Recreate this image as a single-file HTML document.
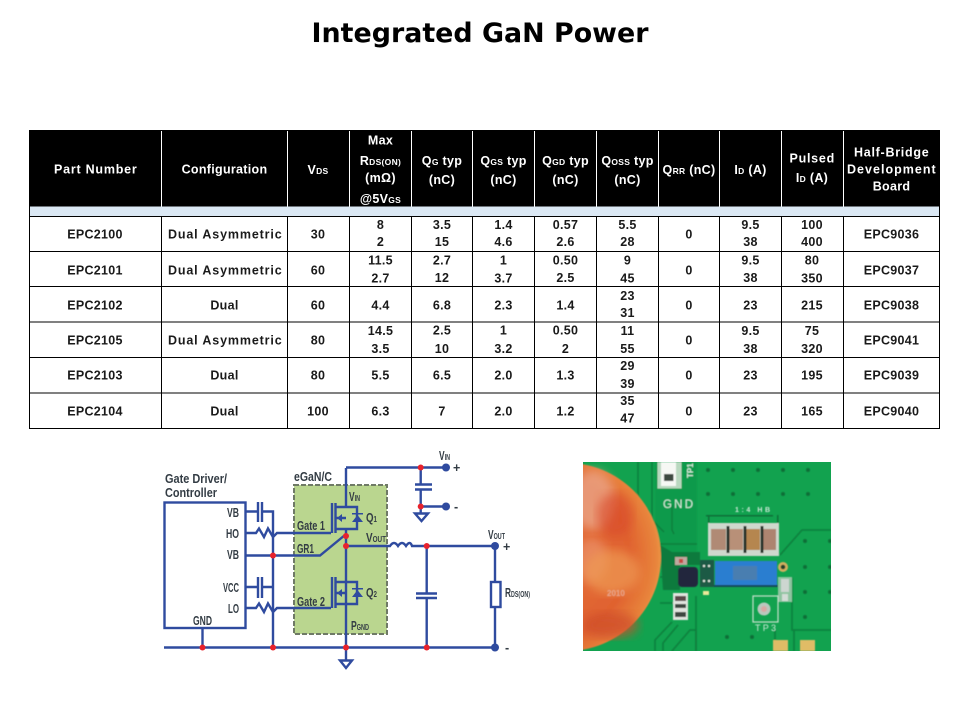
<!DOCTYPE html>
<html><head><meta charset="utf-8"><title>Integrated GaN Power</title>
<style>html,body{margin:0;padding:0;background:#fff;width:960px;height:720px;overflow:hidden}svg{display:block}
.t text{font-family:"Liberation Sans",sans-serif;font-weight:bold;font-size:12.5px;text-anchor:middle;letter-spacing:.3px}
.h text{fill:#fff}.d text{fill:#1a1a1a}
.c text{font-family:"Liberation Sans",sans-serif;font-weight:bold;fill:#333c44;font-size:12.5px}
</style></head><body>
<svg width="960" height="720" viewBox="0 0 960 720" xmlns="http://www.w3.org/2000/svg">
<defs>
<radialGradient id="coin" cx="40%" cy="50%" r="62%"><stop offset="0" stop-color="#e4703c"/><stop offset=".7" stop-color="#e0622f"/><stop offset=".93" stop-color="#e8853c"/><stop offset="1" stop-color="#efa04c"/></radialGradient>
<filter id="b1"><feGaussianBlur stdDeviation=".6"/></filter>
<filter id="b4"><feGaussianBlur stdDeviation="5"/></filter>
<clipPath id="pc"><rect x="583" y="462" width="248" height="189"/></clipPath>
</defs>
<text x="480" y="42" text-anchor="middle" font-family="'DejaVu Sans',sans-serif" font-weight="bold" font-size="27" textLength="337" lengthAdjust="spacingAndGlyphs" fill="#000">Integrated GaN Power</text>

<rect x="29" y="130" width="911" height="76.500" fill="#000"/>
<rect x="29" y="206.500" width="911" height="10" fill="#dbe8f4"/>
<g stroke="#fff" stroke-width="1"><path d="M161.500 131V206.500M287.500 131V206.500M349.500 131V206.500M411.500 131V206.500M472.500 131V206.500M534.500 131V206.500M596.500 131V206.500M658.500 131V206.500M719.500 131V206.500M781.500 131V206.500M843.500 131V206.500"/></g>
<g stroke="#000" stroke-width="1" fill="none"><path d="M29.500 206V428.500M939.500 206V428.500M29 216.500H940M29 251.500H940M29 286.500H940M29 322H940M29 357.500H940M29 393H940M29 428.500H940M161.500 216.500V428.500M287.500 216.500V428.500M349.500 216.500V428.500M411.500 216.500V428.500M472.500 216.500V428.500M534.500 216.500V428.500M596.500 216.500V428.500M658.500 216.500V428.500M719.500 216.500V428.500M781.500 216.500V428.500M843.500 216.500V428.500"/></g>

<g class="t h">
<text x="95.500" y="173.500" textLength="83">Part Number</text>
<text x="224.500" y="173.500">Configuration</text>
<text x="318" y="174">V<tspan font-size="8.500">DS</tspan></text>
<text x="380.500" y="144.500">Max</text>
<text x="380.500" y="165">R<tspan font-size="8.500">DS(ON)</tspan></text>
<text x="380.500" y="182">(mΩ)</text>
<text x="380.500" y="203">@5V<tspan font-size="8.500">GS</tspan></text>
<text x="442" y="165">Q<tspan font-size="8.500">G</tspan> typ</text><text x="442" y="184">(nC)</text>
<text x="503.500" y="165">Q<tspan font-size="8.500">GS</tspan> typ</text><text x="503.500" y="184">(nC)</text>
<text x="565.500" y="165">Q<tspan font-size="8.500">GD</tspan> typ</text><text x="565.500" y="184">(nC)</text>
<text x="627.500" y="165">Q<tspan font-size="8.500">OSS</tspan> typ</text><text x="627.500" y="184">(nC)</text>
<text x="689" y="174">Q<tspan font-size="8.500">RR</tspan> (nC)</text>
<text x="750.500" y="174">I<tspan font-size="8.500">D</tspan> (A)</text>
<text x="812" y="162.500" textLength="45">Pulsed</text><text x="812" y="182">I<tspan font-size="8.500">D</tspan> (A)</text>
<text x="891.500" y="156.500" textLength="75">Half-Bridge</text><text x="891.500" y="173.500" textLength="89">Development</text><text x="891.500" y="190.500">Board</text>
</g>

<g class="t d">
<text x="95" y="238.500">EPC2100</text><text x="225" y="238.500" textLength="114">Dual Asymmetric</text><text x="318" y="238.500">30</text><text x="380.500" y="229">8</text><text x="380.500" y="246">2</text><text x="442" y="229">3.5</text><text x="442" y="246">15</text><text x="503.500" y="229">1.4</text><text x="503.500" y="246">4.6</text><text x="565.500" y="229">0.57</text><text x="565.500" y="246">2.6</text><text x="627.500" y="229">5.5</text><text x="627.500" y="246">28</text><text x="689" y="238.500">0</text><text x="750.500" y="229">9.5</text><text x="750.500" y="246">38</text><text x="812" y="229">100</text><text x="812" y="246">400</text><text x="891.500" y="238.500">EPC9036</text>

<text x="95" y="274.500">EPC2101</text><text x="225" y="274.500" textLength="114">Dual Asymmetric</text><text x="318" y="274.500">60</text><text x="380.500" y="264.500">11.5</text><text x="380.500" y="282.500">2.7</text><text x="442" y="264.500">2.7</text><text x="442" y="282">12</text><text x="503.500" y="264.500">1</text><text x="503.500" y="282.500">3.7</text><text x="565.500" y="264.500">0.50</text><text x="565.500" y="282">2.5</text><text x="627.500" y="264.500">9</text><text x="627.500" y="282.500">45</text><text x="689" y="274.500">0</text><text x="750.500" y="264.500">9.5</text><text x="750.500" y="282">38</text><text x="812" y="264.500">80</text><text x="812" y="282.500">350</text><text x="891.500" y="274.500">EPC9037</text>

<text x="95" y="309.500">EPC2102</text><text x="224.500" y="309.500">Dual</text><text x="318" y="309.500">60</text><text x="380.500" y="309.500">4.4</text><text x="442" y="309.500">6.8</text><text x="503.500" y="309.500">2.3</text><text x="565.500" y="309.500">1.4</text><text x="627.500" y="300">23</text><text x="627.500" y="317">31</text><text x="689" y="309.500">0</text><text x="750.500" y="309.500">23</text><text x="812" y="309.500">215</text><text x="891.500" y="309.500">EPC9038</text>

<text x="95" y="344.500">EPC2105</text><text x="225" y="344.500" textLength="114">Dual Asymmetric</text><text x="318" y="344.500">80</text><text x="380.500" y="335">14.5</text><text x="380.500" y="353">3.5</text><text x="442" y="334.500">2.5</text><text x="442" y="353">10</text><text x="503.500" y="334.500">1</text><text x="503.500" y="353">3.2</text><text x="565.500" y="334.500">0.50</text><text x="565.500" y="353">2</text><text x="627.500" y="335">11</text><text x="627.500" y="353">55</text><text x="689" y="344.500">0</text><text x="750.500" y="335">9.5</text><text x="750.500" y="353">38</text><text x="812" y="335">75</text><text x="812" y="353">320</text><text x="891.500" y="344.500">EPC9041</text>

<text x="95" y="379.500">EPC2103</text><text x="224.500" y="379.500">Dual</text><text x="318" y="379.500">80</text><text x="380.500" y="379.500">5.5</text><text x="442" y="379.500">6.5</text><text x="503.500" y="379.500">2.0</text><text x="565.500" y="379.500">1.3</text><text x="627.500" y="370">29</text><text x="627.500" y="388">39</text><text x="689" y="379.500">0</text><text x="750.500" y="379.500">23</text><text x="812" y="379.500">195</text><text x="891.500" y="379.500">EPC9039</text>

<text x="95" y="415.500">EPC2104</text><text x="224.500" y="415.500">Dual</text><text x="318" y="415.500">100</text><text x="380.500" y="415.500">6.3</text><text x="442" y="415.500">7</text><text x="503.500" y="415.500">2.0</text><text x="565.500" y="415.500">1.2</text><text x="627.500" y="405">35</text><text x="627.500" y="422.500">47</text><text x="689" y="415.500">0</text><text x="750.500" y="415.500">23</text><text x="812" y="415.500">165</text><text x="891.500" y="415.500">EPC9040</text>
</g>

<!-- circuit -->
<rect x="294" y="485" width="93" height="149" fill="#bad68f" stroke="#6f7a66" stroke-width="2" stroke-dasharray="5 2"/>
<g fill="none" stroke="#2f4b9f" stroke-width="2.400">
<rect x="164.500" y="502.500" width="81" height="125.500"/>
<path d="M164 647.500H495"/>
<path d="M202.500 628V647.500"/>
<path d="M245 511.500H258M262 511.500H273V647.500"/>
<path d="M258 502V522M262 502V522"/>
<path d="M245 533H256L259 528.500 264 537 268 528.500 273 537 277 533 H331"/>
<path d="M245 555.500H320L345 535"/>
<path d="M245 587H258M262 587H273"/>
<path d="M258 577V598M262 577V598"/>
<path d="M245 608H256L259 603.500 264 612 268 603.500 273 612 277 608H331"/>
<path d="M346 468V507M346 529V660"/>
<path d="M346 467.500H446"/>
<path d="M420.700 467.500V484M415 484.500H432M415 489.500H432M420.700 489.500V513"/>
<path d="M420.700 506.500H446"/>
<path d="M415 513.500H428L421.500 521Z"/>
<path d="M346 546H390Q394 540 398 546Q402 540 406 546Q410 540 412 546H495"/>
<path d="M426.700 546V593M416 593.500H437M416 598H437M426.700 598V647"/>
<path d="M495 546V582M495 607V647"/>
<rect x="491" y="582" width="9.500" height="25"/>
<path d="M340 660.500H352L346 668Z"/>
<path d="M332 503V533M332 577V608"/>
<path d="M335.500 503V533M335.500 577V608"/>
<path d="M336 507H357V529H336M336 582H357V604H336"/>
<path d="M336 518H346M336 593H346"/>
</g>
<g fill="#2f4b9f">
<path d="M337 518l5-4v8zM337 593l5-4v8z"/>
<path d="M352 522h11l-5.500-7zM352 597h11l-5.500-7z"/>
<rect x="352" y="513" width="11" height="1.500"/><rect x="352" y="588" width="11" height="1.500"/>
<circle cx="446" cy="467.500" r="4"/><circle cx="446" cy="506.500" r="4"/><circle cx="495" cy="546" r="4"/><circle cx="495" cy="647.500" r="4"/>
</g>
<g fill="#e8222c">
<circle cx="202.500" cy="647.500" r="3"/><circle cx="273" cy="647.500" r="3"/><circle cx="346" cy="647.500" r="3"/><circle cx="426.700" cy="647.500" r="3"/>
<circle cx="273" cy="555.500" r="3"/><circle cx="346" cy="536" r="3"/><circle cx="346" cy="546" r="3"/><circle cx="426.700" cy="546" r="3"/>
<circle cx="420.700" cy="467.500" r="3"/><circle cx="420.700" cy="506.500" r="3"/>
</g>
<g class="c">
<text x="165" y="483" textLength="62" lengthAdjust="spacingAndGlyphs">Gate Driver/</text><text x="165" y="497" textLength="52" lengthAdjust="spacingAndGlyphs">Controller</text>
<text x="294" y="481" textLength="38" lengthAdjust="spacingAndGlyphs">eGaN/C</text>
<text x="227" y="517" textLength="12" lengthAdjust="spacingAndGlyphs">VB</text><text x="226" y="538" textLength="13" lengthAdjust="spacingAndGlyphs">HO</text><text x="227" y="559" textLength="12" lengthAdjust="spacingAndGlyphs">VB</text>
<text x="223" y="592" textLength="16" lengthAdjust="spacingAndGlyphs">VCC</text><text x="228" y="613" textLength="11" lengthAdjust="spacingAndGlyphs">LO</text>
<text x="193" y="625" textLength="19" lengthAdjust="spacingAndGlyphs">GND</text>
<text x="297" y="530" textLength="28" lengthAdjust="spacingAndGlyphs">Gate 1</text><text x="297" y="553" textLength="17" lengthAdjust="spacingAndGlyphs">GR1</text><text x="297" y="606" textLength="28" lengthAdjust="spacingAndGlyphs">Gate 2</text>
<text x="349" y="501" textLength="11" lengthAdjust="spacingAndGlyphs">V<tspan font-size="8">IN</tspan></text>
<text x="366" y="522" textLength="11" lengthAdjust="spacingAndGlyphs">Q<tspan font-size="8">1</tspan></text>
<text x="366" y="597" textLength="11" lengthAdjust="spacingAndGlyphs">Q<tspan font-size="8">2</tspan></text>
<text x="366" y="542" textLength="20" lengthAdjust="spacingAndGlyphs">V<tspan font-size="8">OUT</tspan></text>
<text x="351" y="630" textLength="18" lengthAdjust="spacingAndGlyphs">P<tspan font-size="8">GND</tspan></text>
<text x="439" y="460" textLength="11" lengthAdjust="spacingAndGlyphs">V<tspan font-size="8">IN</tspan></text>
<text x="488" y="539" textLength="17" lengthAdjust="spacingAndGlyphs">V<tspan font-size="8">OUT</tspan></text>
<text x="505" y="597" textLength="25" lengthAdjust="spacingAndGlyphs">R<tspan font-size="8">DS(ON)</tspan></text>
<text x="453" y="472" font-size="14">+</text><text x="454" y="511" font-size="14">-</text>
<text x="503" y="551" font-size="14">+</text><text x="505" y="652" font-size="14">-</text>
</g>

<!-- photo -->
<g clip-path="url(#pc)">
<rect x="583" y="462" width="248" height="189" fill="#12a24f"/>
<g filter="url(#b1)">
<path d="M697 462V556H669L655 540V462Z" fill="#0e9a4b"/>
<g fill="none" stroke="#0a7f3c" stroke-width="1.500">
<path d="M638 462V520L660 544H697M652 462V520L664 532"/>
<path d="M672 505V530L674 534"/>
<path d="M780 555L802 530H831M792 578V630H831M794 630V651"/>
<path d="M660 577H677M660 603H673"/>
<path d="M655 651V640L672 622M663 651V643L678 625M672 651L690 630H696V651"/>
<path d="M696 596V651M775 630V651"/>
</g>
<g fill="#0a7038"><circle cx="708" cy="470" r="2"/><circle cx="733" cy="470" r="2"/><circle cx="758" cy="470" r="2"/><circle cx="783" cy="470" r="2"/><circle cx="808" cy="470" r="2"/><circle cx="708" cy="494" r="2"/><circle cx="733" cy="494" r="2"/><circle cx="758" cy="494" r="2"/><circle cx="783" cy="494" r="2"/><circle cx="808" cy="494" r="2"/><circle cx="805" cy="541" r="2"/><circle cx="830" cy="541" r="2"/><circle cx="805" cy="567" r="2"/><circle cx="830" cy="567" r="2"/><circle cx="805" cy="592" r="2"/><circle cx="830" cy="592" r="2"/><circle cx="805" cy="617" r="2"/><circle cx="727" cy="637" r="2"/><circle cx="752" cy="637" r="2"/></g>
<path d="M660 545L672 552H700V565H680V590H663Z" fill="#0b7a3e"/>
<circle cx="567" cy="557" r="94" fill="url(#coin)"/>
<ellipse cx="593" cy="500" rx="22" ry="30" fill="#eba98c" opacity=".75" filter="url(#b4)"/>
<ellipse cx="592" cy="560" rx="16" ry="22" fill="#ec9a74" opacity=".6" filter="url(#b4)"/>
<ellipse cx="615" cy="515" rx="18" ry="22" fill="#d9482a" opacity=".6" filter="url(#b4)"/>
<ellipse cx="612" cy="572" rx="28" ry="22" fill="#ee9a52" opacity=".7" filter="url(#b4)"/>
<ellipse cx="610" cy="625" rx="28" ry="13" fill="#cf4d2b" opacity=".75" filter="url(#b4)"/>
<text x="607" y="596" font-family="'Liberation Sans',sans-serif" font-weight="bold" font-size="8" fill="#e8a68a">2010</text>
<rect x="657.500" y="462" width="24" height="26.500" fill="#b9d8bf"/><rect x="661" y="462" width="15" height="24" fill="#f6f8f4"/><rect x="664" y="474" width="9.500" height="7" fill="#3c4a40"/>
<rect x="706" y="515" width="67" height="1.500" fill="#0a7038"/><rect x="708" y="515" width="1.500" height="8" fill="#0a7038"/><rect x="777" y="515" width="1.500" height="8" fill="#0a7038"/>
<rect x="708" y="523" width="71" height="33" fill="#cfd8cd"/>
<rect x="711" y="529" width="15" height="21" fill="#b08a74"/><rect x="729" y="529" width="14" height="21" fill="#b89078"/><rect x="746" y="529" width="14" height="21" fill="#b5864f"/><rect x="763" y="529" width="13" height="21" fill="#ad8470"/>
<rect x="726.500" y="526" width="3" height="27" fill="#26302a"/><rect x="743.500" y="526" width="3" height="27" fill="#26302a"/><rect x="760.500" y="526" width="3" height="27" fill="#26302a"/>
<rect x="675" y="557" width="12" height="8" fill="#bfa9a0"/><rect x="679" y="559" width="4" height="4" fill="#c44a40"/>
<rect x="678" y="567" width="20" height="20" rx="4" fill="#23283e"/>
<rect x="700" y="560" width="14" height="27" fill="#1a5a44"/>
<circle cx="704" cy="566" r="1.200" fill="#dfe8df"/><circle cx="709" cy="566" r="1.200" fill="#dfe8df"/><circle cx="704" cy="581" r="1.200" fill="#dfe8df"/><circle cx="709" cy="581" r="1.200" fill="#dfe8df"/>
<rect x="715" y="561" width="62" height="24" fill="#2a7ed0"/><rect x="733" y="566" width="24" height="14" fill="#4a7eb0"/>
<rect x="714" y="585" width="64" height="2" fill="#124a5a"/>
<circle cx="783" cy="567" r="5" fill="#d0ae5e"/><circle cx="783" cy="567" r="2.300" fill="#20402a"/>
<rect x="778" y="577" width="14" height="25" fill="#8fc4a0"/><rect x="781" y="579" width="8" height="13" fill="#cdd6d0"/><rect x="782" y="594" width="6" height="7" fill="#d3dcd6"/>
<rect x="703" y="591" width="6" height="4" fill="#ece89a"/>
<rect x="673" y="593" width="15" height="27" fill="#e0e4de"/><rect x="675" y="596" width="11" height="5" fill="#5a4a48"/><rect x="675" y="604" width="11" height="4" fill="#3e4640"/><rect x="675" y="612" width="11" height="5" fill="#3e4640"/>
<rect x="753" y="596" width="25" height="26" fill="none" stroke="#c6e0cc" stroke-width="1.200"/>
<circle cx="764" cy="609" r="6.500" fill="#b9c8bd"/><circle cx="764" cy="609" r="3" fill="#d8a8a4"/>
<rect x="773" y="640" width="15" height="11" fill="#e0bc66"/><rect x="800" y="640" width="15" height="11" fill="#e0bc66"/>
<text x="663" y="508" font-family="'Liberation Sans',sans-serif" font-size="11.500" fill="#d7efe0" textLength="30">GND</text>
<text x="735" y="512" font-family="'Liberation Sans',sans-serif" font-weight="bold" font-size="7" fill="#cfe8d8" textLength="35">1:4 HB</text>
<text x="755" y="631" font-family="'Liberation Sans',sans-serif" font-size="9" fill="#cfe8d8" textLength="21">TP3</text>
<text x="0" y="0" transform="translate(693,478) rotate(-90)" font-family="'Liberation Sans',sans-serif" font-weight="bold" font-size="8" fill="#d7efe0">TP1</text>
</g>
</g>
</svg>
</body></html>
